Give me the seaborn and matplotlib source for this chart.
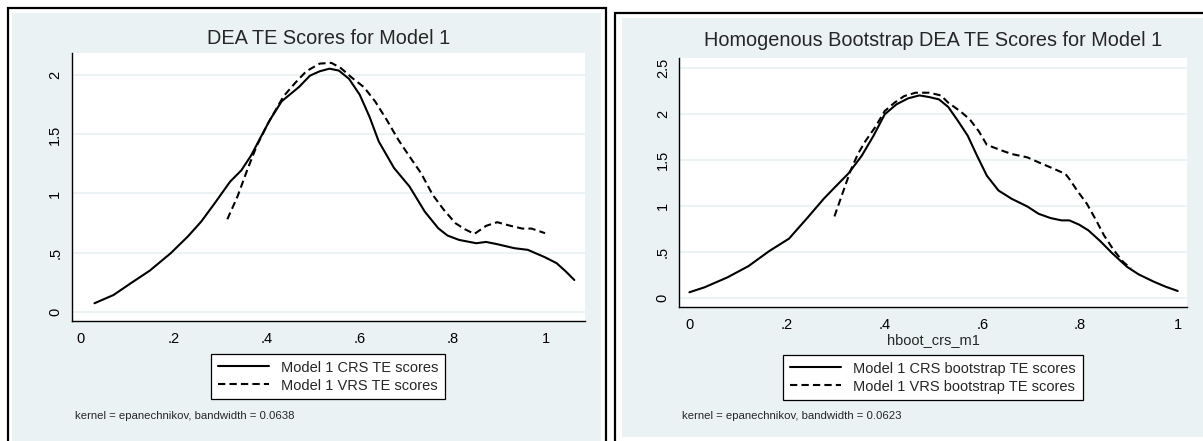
import numpy as np
import pandas as pd
import matplotlib
matplotlib.use("Agg")
import matplotlib.pyplot as plt
from matplotlib.patches import Rectangle
from matplotlib.lines import Line2D
import seaborn as sns

# ---------------- data ----------------
crs1_x = [0.029, 0.070, 0.107, 0.148, 0.193, 0.230, 0.259, 0.288, 0.321, 0.345, 0.366, 0.387, 0.407,
          0.432, 0.469, 0.493, 0.514, 0.535, 0.555, 0.577, 0.600, 0.621, 0.641, 0.674, 0.707, 0.740,
          0.769, 0.789, 0.814, 0.851, 0.872, 0.896, 0.933, 0.962, 0.999, 1.024, 1.044, 1.062]
crs1_y = [0.071, 0.141, 0.240, 0.347, 0.494, 0.636, 0.763, 0.918, 1.100, 1.195, 1.320, 1.477, 1.624,
          1.780, 1.900, 1.997, 2.034, 2.056, 2.040, 1.970, 1.836, 1.650, 1.440, 1.215, 1.060, 0.847,
          0.706, 0.644, 0.607, 0.579, 0.590, 0.571, 0.537, 0.523, 0.460, 0.410, 0.339, 0.268]
vrs1_x = [0.315, 0.337, 0.358, 0.378, 0.403, 0.436, 0.461, 0.485, 0.514, 0.539, 0.559, 0.584, 0.609,
          0.633, 0.658, 0.683, 0.707, 0.732, 0.757, 0.781, 0.806, 0.826, 0.847, 0.872, 0.896, 0.925,
          0.950, 0.970, 0.999]
vrs1_y = [0.782, 0.975, 1.200, 1.400, 1.596, 1.822, 1.935, 2.034, 2.099, 2.105, 2.062, 1.977, 1.900,
          1.780, 1.624, 1.455, 1.314, 1.172, 0.989, 0.862, 0.749, 0.698, 0.658, 0.726, 0.757, 0.726,
          0.703, 0.703, 0.664]

crs2_x = [0.0, 0.031, 0.078, 0.121, 0.164, 0.204, 0.243, 0.275, 0.298, 0.326, 0.353, 0.377, 0.400,
          0.424, 0.448, 0.471, 0.491, 0.511, 0.530, 0.550, 0.570, 0.589, 0.609, 0.633, 0.660, 0.692,
          0.715, 0.739, 0.762, 0.778, 0.798, 0.817, 0.841, 0.865, 0.896, 0.920, 0.951, 0.975, 1.0]
crs2_y = [0.065, 0.119, 0.227, 0.349, 0.514, 0.647, 0.881, 1.079, 1.205, 1.356, 1.547, 1.763, 1.996,
          2.104, 2.169, 2.201, 2.183, 2.158, 2.076, 1.924, 1.763, 1.547, 1.331, 1.169, 1.079, 0.996,
          0.917, 0.871, 0.845, 0.845, 0.799, 0.737, 0.622, 0.493, 0.342, 0.259, 0.180, 0.126, 0.079]
vrs2_x = [0.297, 0.312, 0.330, 0.345, 0.361, 0.381, 0.400, 0.420, 0.440, 0.463, 0.491, 0.515, 0.530,
          0.554, 0.574, 0.593, 0.609, 0.637, 0.660, 0.692, 0.715, 0.747, 0.770, 0.778, 0.794, 0.814,
          0.833, 0.849, 0.869, 0.888, 0.904]
vrs2_y = [0.888, 1.115, 1.385, 1.565, 1.709, 1.860, 2.032, 2.122, 2.194, 2.230, 2.230, 2.201, 2.122,
          2.032, 1.942, 1.809, 1.665, 1.608, 1.565, 1.529, 1.475, 1.403, 1.349, 1.295, 1.169, 1.025,
          0.845, 0.683, 0.522, 0.396, 0.324]

x_ticks = [0, 0.2, 0.4, 0.6, 0.8, 1.0]
x_ticklabels = ["0", ".2", ".4", ".6", ".8", "1"]
y_ticks1 = [0, 0.5, 1.0, 1.5, 2.0]
y_ticklabels1 = ["0", ".5", "1", "1.5", "2"]
y_ticks2 = [0, 0.5, 1.0, 1.5, 2.0, 2.5]
y_ticklabels2 = ["0", ".5", "1", "1.5", "2", "2.5"]

title1 = "DEA TE Scores for Model 1"
title2 = "Homogenous Bootstrap DEA TE Scores for Model 1"
labels1 = ["Model 1 CRS TE scores", "Model 1 VRS TE scores"]
labels2 = ["Model 1 CRS bootstrap TE scores", "Model 1 VRS bootstrap TE scores"]
note1 = "kernel = epanechnikov, bandwidth = 0.0638"
note2 = "kernel = epanechnikov, bandwidth = 0.0623"
xlabel2 = "hboot_crs_m1"

# ---------------- style ----------------
sns.set_style("white")
plt.rcParams["font.family"] = ["Liberation Sans", "DejaVu Sans"]

W, H = 1203, 441
fig = plt.figure(figsize=(W / 100, H / 100), dpi=100)
fig.patch.set_facecolor("white")

BG = "#EAF2F3"
GRID = "#EAF2F3"
LW = 1.5
DASH = (0, (3.5, 2.0))


def fx(px):
    return px / W


def fy(py):
    return 1 - py / H


# panel backgrounds and frames (figure pixel coords, y from top)
fig.patches.append(Rectangle((fx(12), fy(445)), fx(601 - 12), (445 - 13) / H,
                             transform=fig.transFigure, facecolor=BG, edgecolor="none", zorder=-5))
fig.patches.append(Rectangle((fx(8), fy(460)), fx(606 - 8), (460 - 8) / H,
                             transform=fig.transFigure, facecolor="none", edgecolor="black",
                             linewidth=1.6, zorder=-4))
fig.patches.append(Rectangle((fx(622), fy(437)), fx(620), (437 - 18) / H,
                             transform=fig.transFigure, facecolor=BG, edgecolor="none", zorder=-5))
fig.patches.append(Rectangle((fx(615), fy(460)), fx(700), (460 - 12.5) / H,
                             transform=fig.transFigure, facecolor="none", edgecolor="black",
                             linewidth=1.6, zorder=-4))


def make_axes(l, r, t, b):
    return fig.add_axes([fx(l), fy(b), fx(r - l), (b - t) / H])


ax1 = make_axes(71.7, 585.0, 53.3, 321.0)
ax2 = make_axes(679.3, 1186.7, 57.7, 307.3)


def style_axes(ax, yticks, yticklabels, xlim, ylim):
    ax.set_facecolor("white")
    ax.set_xlim(*xlim)
    ax.set_ylim(*ylim)
    for s in ["top", "right"]:
        ax.spines[s].set_visible(False)
    for s in ["left", "bottom"]:
        ax.spines[s].set_color("black")
        ax.spines[s].set_linewidth(1.0)
    ax.set_xticks(x_ticks)
    ax.set_xticklabels(x_ticklabels)
    ax.set_yticks(yticks)
    ax.set_yticklabels(yticklabels, rotation=90, va="center")
    ax.tick_params(axis="both", direction="out", length=3.8, width=0.9, color="black",
                   labelsize=10.5, labelcolor="black")
    ax.tick_params(axis="x", pad=4.0)
    ax.tick_params(axis="y", pad=3.0)
    ax.set_axisbelow(True)
    ax.yaxis.grid(True, color=GRID, linewidth=1.3)
    ax.xaxis.grid(False)
    ax.set_xlabel("")
    ax.set_ylabel("")


def draw(ax, cx, cy, vx, vy, labels):
    d1 = pd.DataFrame({"x": cx, "y": cy})
    d2 = pd.DataFrame({"x": vx, "y": vy})
    sns.lineplot(data=d1, x="x", y="y", ax=ax, color="black", linewidth=LW, legend=False)
    sns.lineplot(data=d2, x="x", y="y", ax=ax, color="black", linewidth=LW, linestyle=DASH,
                 legend=False)
    handles = [Line2D([], [], color="black", lw=LW),
               Line2D([], [], color="black", lw=LW, linestyle=DASH)]
    return handles


h1 = draw(ax1, crs1_x, crs1_y, vrs1_x, vrs1_y, labels1)
h2 = draw(ax2, crs2_x, crs2_y, vrs2_x, vrs2_y, labels2)

style_axes(ax1, y_ticks1, y_ticklabels1, (-0.020, 1.085), (-0.079, 2.186))
style_axes(ax2, y_ticks2, y_ticklabels2, (-0.0207, 1.0184), (-0.098, 2.61))


def add_legend(ax, handles, labels, cx, top):
    leg = ax.legend(handles, labels, loc="upper center",
                    bbox_to_anchor=(fx(cx), fy(top)), bbox_transform=fig.transFigure,
                    frameon=True, fancybox=False, shadow=False, framealpha=1,
                    facecolor="white", edgecolor="black", fontsize=10.5,
                    handlelength=3.5, handletextpad=0.85, borderpad=0.45,
                    labelspacing=0.27, borderaxespad=0)
    leg.get_frame().set_linewidth(0.9)
    return leg


add_legend(ax1, h1, labels1, 328.4, 354)
add_legend(ax2, h2, labels2, 933.0, 355)

# titles
fig.text(fx(328.4), fy(44), title1, ha="center", va="baseline", fontsize=14.3)
fig.text(fx(933.0), fy(46), title2, ha="center", va="baseline", fontsize=14.3)

# x label on the right panel
fig.text(fx(933.0), fy(340), xlabel2, ha="center", va="center", fontsize=10.5)

# kernel notes
fig.text(fx(75), fy(416), note1, ha="left", va="center", fontsize=8.2)
fig.text(fx(682.5), fy(416), note2, ha="left", va="center", fontsize=8.2)

fig.savefig("out.png", dpi=100, facecolor="white")
